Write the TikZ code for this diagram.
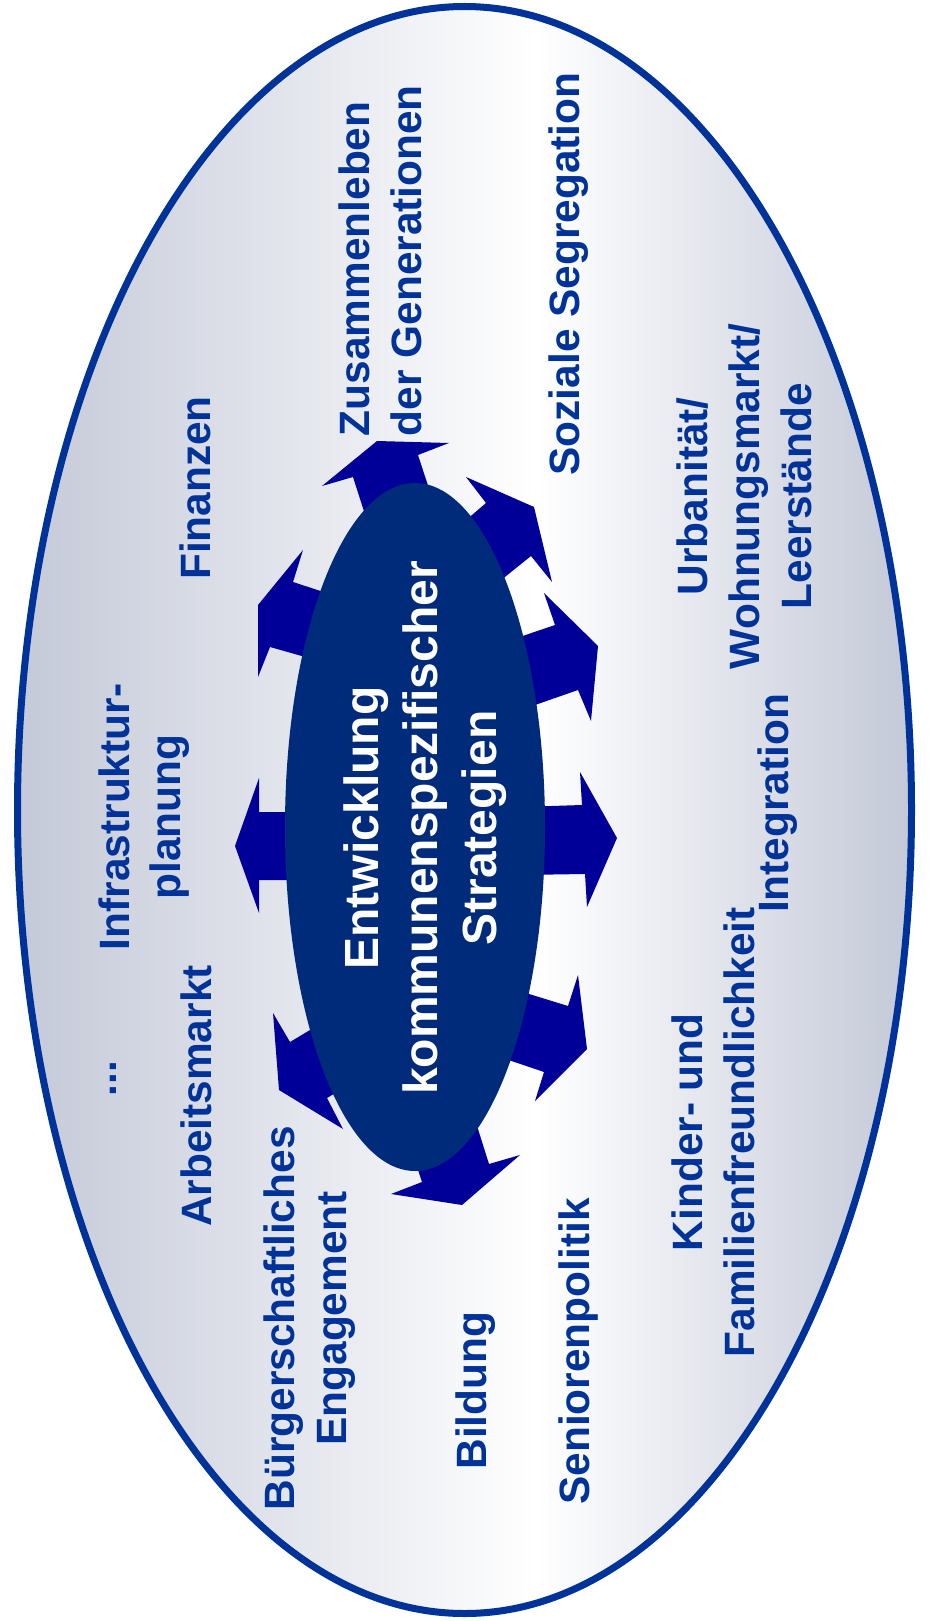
\documentclass[tikz,border=0pt]{standalone}
\usepackage{fontspec}
\setmainfont{Liberation Sans}
\definecolor{rimblue}{RGB}{0,51,153}
\definecolor{arrowblue}{RGB}{0,0,153}
\definecolor{coreblue}{RGB}{0,42,122}
\definecolor{edgegray}{RGB}{196,201,216}
\pgfdeclarehorizontalshading{outerfade}{100bp}{color(0bp)=(edgegray); color(25bp)=(edgegray); color(54bp)=(white); color(75bp)=(edgegray); color(100bp)=(edgegray)}
\newcommand{\topicFont}{\fontsize{21.2}{25.9}\selectfont\bfseries}
\newcommand{\coreFont}{\fontsize{24}{29.5}\selectfont\bfseries}

\begin{document}
\begin{tikzpicture}[x=0.5pt, y=-0.5pt]
  \tikzset{topic/.style={rotate=90, inner sep=0pt, align=center, text=rimblue, font=\topicFont},
           spoke/.style={fill=arrowblue}}
  \useasboundingbox (0,0) rectangle (929,1621);
  \shadedraw[shading=outerfade, draw=rimblue, line width=3.5pt] (464.5,810) ellipse (447 and 803.5);
  \fill[spoke] (370,530) -- (353,477) -- (322,486) -- (377,441) -- (449,443) -- (418,455) -- (436,510) -- cycle;
  \fill[spoke] (458,527) -- (486,503) -- (466,477) -- (534,507) -- (552,582) -- (531,556) -- (485,593) -- cycle;
  \fill[spoke] (505,642) -- (555,625) -- (544,593) -- (598,646) -- (591,721) -- (578,690) -- (515,712) -- cycle;
  \fill[spoke] (345,599) -- (293,582) -- (303,550) -- (258,605) -- (258,677) -- (270,647) -- (330,664) -- cycle;
  \fill[spoke] (310,812) -- (259,812) -- (259,778) -- (235,846) -- (259,913) -- (259,880) -- (310,880) -- cycle;
  \fill[spoke] (520,807) -- (582,805) -- (580,772) -- (617,838) -- (587,907) -- (585,874) -- (520,875) -- cycle;
  \fill[spoke] (335,1015) -- (290,1042) -- (273,1013) -- (279,1090) -- (343,1129) -- (327,1098) -- (360,1078) -- cycle;
  \fill[spoke] (500,985) -- (568,1006) -- (578,975) -- (587,1049) -- (535,1101) -- (544,1072) -- (485,1052) -- cycle;
  \fill[spoke] (405,1130) -- (422,1182) -- (391,1194) -- (462,1205) -- (520,1155) -- (489,1164) -- (472,1110) -- cycle;
  \fill[coreblue] (415,827) ellipse (130 and 344);
  \node[rotate=90, inner sep=0pt, align=center, text=white, font=\coreFont] (C-1) at (425,828)
    {Entwicklung\\kommunenspezifischer\\Strategien};
  \node[topic] (T-1) at (113.7,1078.5) {...};
  \node[topic] (T-2) at (196.5,1096) {Arbeitsmarkt};
  \node[topic] (T-3) at (144.2,816.9) {Infrastruktur-\\planung};
  \node[topic] (T-4) at (194.9,488) {Finanzen};
  \node[topic, align=left] (T-5) at (380.5,260.6) {Zusammenleben\\der Generationen};
  \node[topic] (T-6) at (568.2,274) {Soziale Segregation};
  \node[topic] (T-7) at (744.5,496.3) {Urbanität/\\Wohnungsmarkt/\\Leerstände};
  \node[topic] (T-8) at (778,803.4) {Integration};
  \node[topic] (T-9) at (713.5,1132.2) {Kinder- und\\Familienfreundlichkeit};
  \node[topic] (T-10) at (579,1351.4) {Seniorenpolitik};
  \node[topic] (T-11) at (475.6,1390.7) {Bildung};
  \node[topic] (T-12) at (309.7,1318.4) {Bürgerschaftliches\\Engagement};
\end{tikzpicture}
\end{document}
